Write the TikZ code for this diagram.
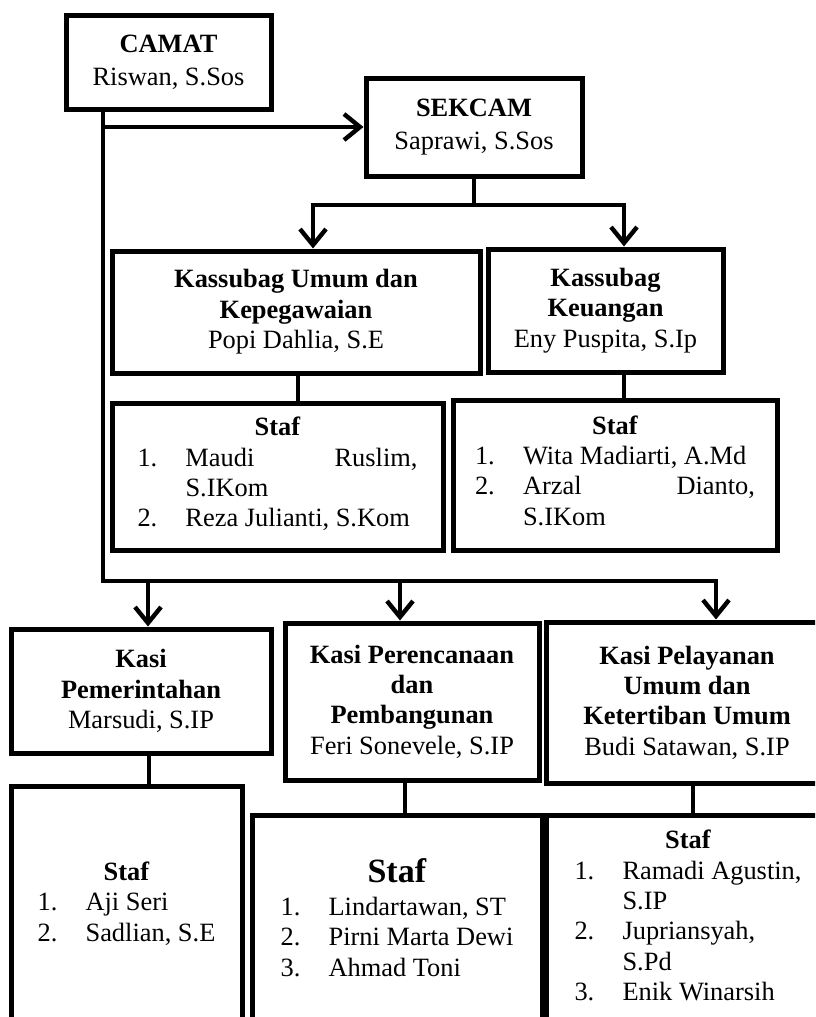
\documentclass[tikz,border=0pt]{standalone}
\usepackage{fontspec}
\setmainfont{Liberation Serif}
\usetikzlibrary{arrows.meta}
\newcommand{\spread}[1]{\makebox[116pt][s]{#1}}

\begin{document}
\begin{tikzpicture}[x=0.5pt,y=-0.5pt,
    box/.style={draw,line width=2.5pt,fill=white,align=center,inner sep=2pt,
                font=\fontsize{13.2}{15.2}\selectfont},
    head/.style={box,font=\fontsize{13.2}{16.5}\selectfont},
    line/.style={line width=2.2pt,line cap=rect},
    arr/.style={line,-{Straight Barb[length=8pt,width=13pt]}}]
  \useasboundingbox (0,0) rectangle (815,1017);
  \clip (0,0) rectangle (815,1017);
  % top
  \node[head,minimum width=102.5pt,minimum height=47pt] (camat) at (168.5,62)
    {\textbf{CAMAT}\\Riswan, S.Sos};
  \node[head,minimum width=108pt,minimum height=49pt] (sekcam) at (474,127)
    {\textbf{SEKCAM}\\Saprawi, S.Sos};
  % kassubag
  \node[box,minimum width=184pt,minimum height=61pt] (kumum) at (296,312)
    {\textbf{Kassubag Umum dan}\\\textbf{Kepegawaian}\\Popi Dahlia, S.E};
  \node[box,minimum width=117.5pt,minimum height=61.5pt] (kkeu) at (605.5,310.5)
    {\textbf{Kassubag}\\\textbf{Keuangan}\\Eny Puspita, S.Ip};
  \node[box,minimum width=165.5pt,minimum height=73.5pt] (stumum) at (277.5,476.5)
    {\textbf{Staf}\\\begin{tabular}[t]{@{}p{24pt}@{}l@{}}
      1. & \spread{Maudi Ruslim,}\\ & S.IKom\\ 2. & Reza Julianti, S.Kom\end{tabular}};
  \node[box,minimum width=162pt,minimum height=75pt] (stkeu) at (615,475)
    {\textbf{Staf}\\\begin{tabular}[t]{@{}p{24pt}@{}l@{}}
      1. & Wita Madiarti, A.Md\\ 2. & \spread{Arzal Dianto,}\\ & S.IKom\end{tabular}};
  % kasi
  \node[box,minimum width=130pt,minimum height=62pt] (kpem) at (141,691)
    {\textbf{Kasi}\\\textbf{Pemerintahan}\\Marsudi, S.IP};
  \node[box,minimum width=127pt,minimum height=78.5pt] (kper) at (412,701.5)
    {\textbf{Kasi Perencanaan}\\\textbf{dan}\\\textbf{Pembangunan}\\Feri Sonevele, S.IP};
  \node[box,minimum width=141pt,minimum height=80.5pt] (kpel) at (687,702.5)
    {\textbf{Kasi Pelayanan}\\\textbf{Umum dan}\\\textbf{Ketertiban Umum}\\Budi Satawan, S.IP};
  \node[box,minimum width=115.5pt,minimum height=120pt] (spem) at (126.5,906)
    {\textbf{Staf}\\\begin{tabular}[t]{@{}p{24pt}@{}l@{}}
      1. & Aji Seri\\ 2. & Sadlian, S.E\end{tabular}};
  \node[box,minimum width=145pt,minimum height=107pt] (sper) at (397,922)
    {{\fontsize{17}{19}\selectfont\textbf{Staf}}\\[1pt]\begin{tabular}[t]{@{}p{24pt}@{}l@{}}
      1. & Lindartawan, ST\\ 2. & Pirni Marta Dewi\\ 3. & Ahmad Toni\end{tabular}};
  \node[box,minimum width=141.5pt,minimum height=105pt] (spel) at (688,920)
    {\textbf{Staf}\\\begin{tabular}[t]{@{}p{24pt}@{}l@{}}
      1. & Ramadi Agustin,\\ & S.IP\\ 2. & Jupriansyah,\\ & S.Pd\\ 3. & Enik Winarsih\end{tabular}};
  % connectors
  \coordinate (trunk) at (103,581);
  \coordinate (b1) at (148,581);
  \coordinate (b2) at (400,581);
  \coordinate (b3) at (716,581);
  \coordinate (fork) at (474,205);
  \coordinate (fl) at (313,205);
  \coordinate (fr) at (624,205);
  \draw[line] (camat.south -| trunk) -- (trunk) -- (b3);
  \draw[arr] (sekcam.west -| trunk) -- (sekcam.west);
  \foreach \b/\n in {b1/kpem,b2/kper,b3/kpel}
    \draw[arr] (\b) -- (\b |- \n.north);
  \draw[line] (sekcam.south) -- (fork);
  \draw[line] (fl) -- (fr);
  \draw[arr] (fl) -- (fl |- kumum.north);
  \draw[arr] (fr) -- (fr |- kkeu.north);
  \foreach \a/\s/\dx in {kumum/stumum/1pt,kkeu/stkeu/9.25pt,kpem/spem/4pt,kper/sper/-3.5pt,kpel/spel/3pt}{
    \coordinate (top) at ([xshift=\dx]\a.south);
    \draw[line] (top) -- (top |- \s.north);
  }
\end{tikzpicture}
\end{document}
